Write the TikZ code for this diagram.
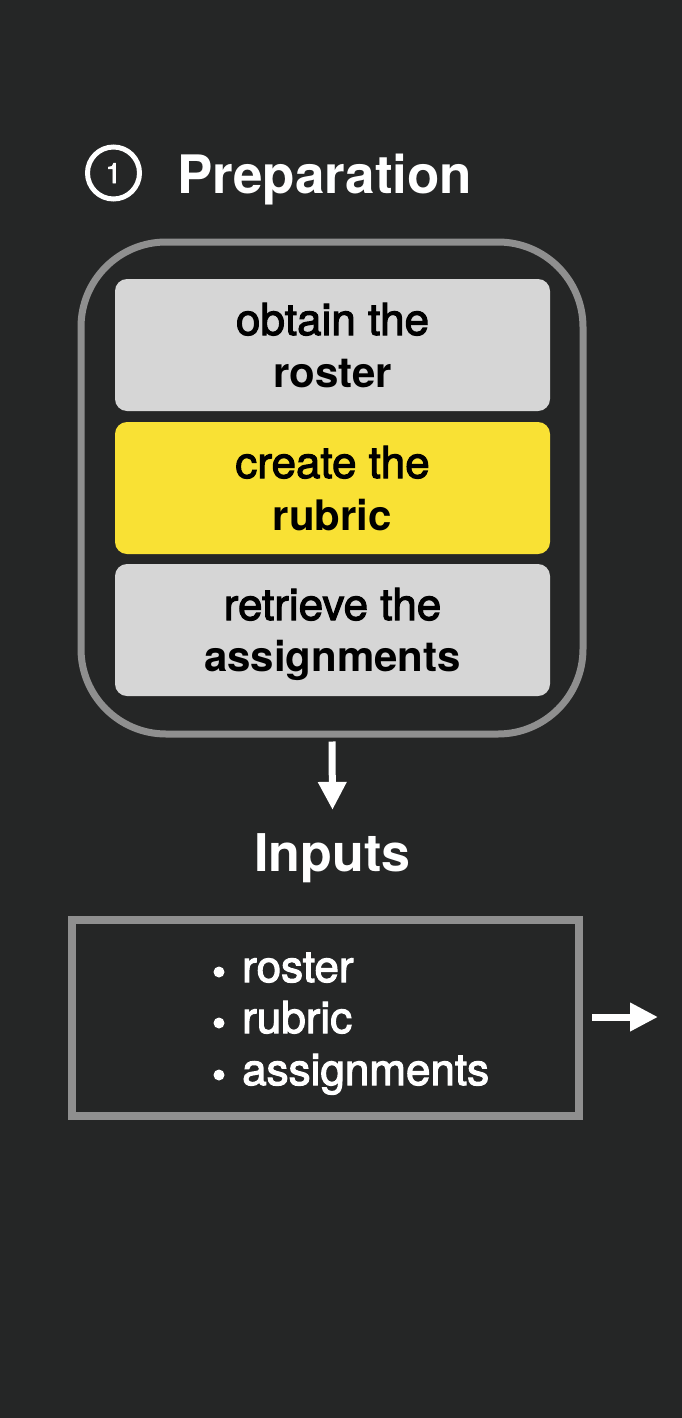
\documentclass[tikz,border=0pt]{standalone}
\usepackage{fontspec}
\setmainfont{TeX Gyre Heros}
\newfontfamily\medfont[FakeBold=2.5]{TeX Gyre Heros}
\usetikzlibrary{arrows.meta}
\definecolor{bg}{RGB}{37,38,38}
\definecolor{frame}{RGB}{143,143,143}
\definecolor{card}{RGB}{214,214,214}
\definecolor{hilite}{RGB}{249,225,52}

\begin{document}
\begin{tikzpicture}[x=1pt,y=-1pt,
  stepcard/.style={draw=none, rounded corners=12pt, minimum width=435pt,
    minimum height=132pt, inner sep=0pt},
  cardtext/.style={anchor=base, text=black, inner sep=0pt,
    font=\fontsize{44}{50}\medfont},
  cardbold/.style={anchor=base, text=black, inner sep=0pt,
    font=\fontsize{42}{50}\selectfont\bfseries},
  listtext/.style={anchor=base west, text=white, inner sep=0pt,
    font=\fontsize{44}{50}\medfont},
  bulletdot/.style={circle, fill=white, minimum size=11pt, inner sep=0pt},
  heading/.style={text=white, inner sep=0pt, font=\fontsize{53}{60}\selectfont\bfseries},
  flow/.style={white, line width=7pt, -{Triangle[width=27pt,length=28pt]}}
]
% canvas
\fill[bg] (0,0) rectangle (682,1418);
\useasboundingbox (0,0) rectangle (682,1418);

% stage number and title
\node[circle, draw=white, line width=5pt, minimum size=52pt, inner sep=0pt] (num) at (113.5,173) {};
\node[anchor=base, text=white, inner sep=0pt, font=\fontsize{28}{30}\medfont] (numtxt) at (113.5,183) {1};
\node[heading, anchor=base west] (title) at (177,193) {Preparation};

% preparation group
\node[draw=frame, line width=7pt, rounded corners=85pt, minimum width=502pt,
  minimum height=492pt, inner sep=0pt] (prep) at (332,488) {};

\node[stepcard, fill=card]   (roster)  at (332.5,345) {};
\node[stepcard, fill=hilite] (rubric)  at (332.5,488) {};
\node[stepcard, fill=card]   (assign)  at (332.5,630) {};

\node[cardtext] (rosterA) at (332.5,335) {obtain the};
\node[cardbold] (rosterB) at (332.5,387) {roster};
\node[cardtext] (rubricA) at (332.5,478) {create the};
\node[cardbold] (rubricB) at (332.5,530) {rubric};
\node[cardtext] (assignA) at (332.5,620) {retrieve the};
\node[cardbold] (assignB) at (332.5,671) {assignments};

% inputs
\node[heading, anchor=base, font=\fontsize{52}{60}\selectfont\bfseries] (inputs) at (332.5,871) {Inputs};
\draw[flow] ([yshift=-4pt]prep.south) -- ([yshift=23pt]inputs.north);

\node[draw=frame, line width=8pt, minimum width=507pt, minimum height=196pt,
  inner sep=0pt] (inbox) at (325.5,1018) {};

\node[bulletdot] (d1) at (219,972) {};
\node[bulletdot] (d2) at (219,1023) {};
\node[bulletdot] (d3) at (219,1075) {};
\node[listtext] (i1) at (242,982) {roster};
\node[listtext] (i2) at (242,1033) {rubric};
\node[listtext] (i3) at (242,1085) {assignments};

% onward arrow
\coordinate (next) at (658,1017);
\draw[flow] ([xshift=9pt,yshift=1pt]inbox.east) -- (next);
\end{tikzpicture}
\end{document}
